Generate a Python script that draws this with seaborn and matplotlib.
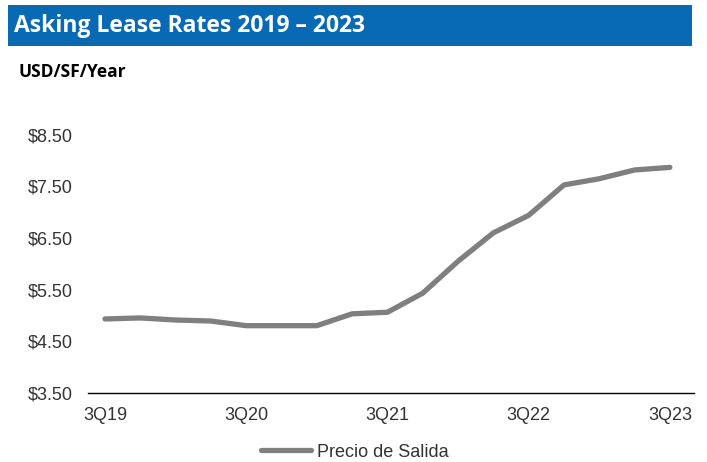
import matplotlib
matplotlib.use("Agg")
import matplotlib.pyplot as plt
import seaborn as sns
import pandas as pd
from matplotlib.patches import Rectangle

quarters = ["3Q19", "4Q19", "1Q20", "2Q20", "3Q20", "4Q20", "1Q21", "2Q21", "3Q21",
            "4Q21", "1Q22", "2Q22", "3Q22", "4Q22", "1Q23", "2Q23", "3Q23"]
precio_salida = [4.93, 4.95, 4.91, 4.89, 4.80, 4.80, 4.80, 5.03, 5.06,
                 5.43, 6.05, 6.60, 6.94, 7.53, 7.65, 7.82, 7.87]
series_name = "Precio de Salida"
y_ticks = [3.5, 4.5, 5.5, 6.5, 7.5, 8.5]
x_tick_labels = ["3Q19", "3Q20", "3Q21", "3Q22", "3Q23"]
title = "Asking Lease Rates 2019 \u2013 2023"
unit_label = "USD/SF/Year"

df = pd.DataFrame({"idx": range(len(quarters)), "quarter": quarters,
                   "value": precio_salida, "series": series_name})

sns.set_theme(style="white")
plt.rcParams['font.family'] = ['Liberation Sans', 'DejaVu Sans']

fig = plt.figure(figsize=(7.07, 4.62), dpi=100)
ax = fig.add_axes([0.1245, 0.150, 0.857, 0.558])

sns.lineplot(data=df, x="idx", y="value", hue="series", palette=["#7f7f7f"],
             linewidth=3.8, ax=ax, legend=True)

ax.set_xlim(-0.48, 16.68)
ax.set_ylim(3.5, 8.5)
ax.set_yticks(y_ticks)
ax.set_yticklabels([f"${v:.2f}" for v in y_ticks])
ax.set_xticks([quarters.index(q) for q in x_tick_labels])
ax.set_xticklabels(x_tick_labels)
ax.tick_params(axis="both", length=0, labelsize=13, colors="#333333")
ax.tick_params(axis="y", pad=11)
ax.tick_params(axis="x", pad=10)
ax.set_xlabel("")
ax.set_ylabel("")
for s in ["top", "right", "left"]:
    ax.spines[s].set_visible(False)
ax.spines["bottom"].set_color("black")
ax.spines["bottom"].set_linewidth(1.0)

leg = ax.legend(loc="upper center", bbox_to_anchor=(0.44, -0.135), frameon=False,
                fontsize=13, handlelength=2.8, handletextpad=0.3)
for t in leg.get_texts():
    t.set_color("#333333")

# Title bar
fig.patches.append(Rectangle((8/707, 1-46/462), 684/707, 41/462, transform=fig.transFigure,
                             facecolor="#0869b4", edgecolor="none", zorder=0))
fig.text(14/707, 1-26/462, title, color="white", fontsize=16.5, fontweight="bold",
         va="center", ha="left", family=["Open Sans", "DejaVu Sans"])
fig.text(18/707, 1-72/462, unit_label, color="black", fontsize=12.5, fontweight="bold",
         va="center", ha="left", family=["Open Sans", "DejaVu Sans"])

fig.savefig("out.png", dpi=100)
